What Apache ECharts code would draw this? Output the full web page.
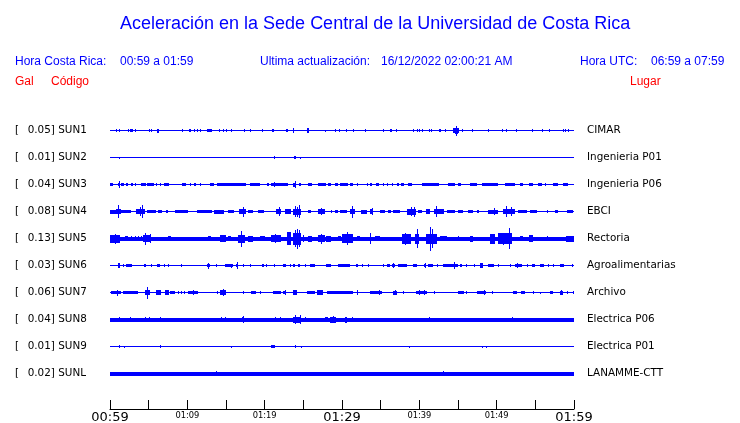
<!DOCTYPE html>
<html><head><meta charset="utf-8">
<script src="https://cdn.jsdelivr.net/npm/echarts@6/dist/echarts.min.js"></script>
<style>html,body{margin:0;padding:0;background:#fff}#c{width:740px;height:423px}</style>
</head><body><div id="c"></div><script>
// ---- data ----
const codes = ['SUN1','SUN2','SUN3','SUN4','SUN5','SUN6','SUN7','SUN8','SUN9','SUNL'];
const galMax = [0.05,0.01,0.04,0.08,0.13,0.03,0.06,0.04,0.01,0.02];
const stations = ['CIMAR','Ingenieria P01','Ingenieria P06','EBCI','Rectoria','Agroalimentarias','Archivo','Electrica P06','Electrica P01','LANAMME-CTT'];
const tickLabels = ['00:59','01:09','01:19','01:29','01:39','01:49','01:59']; // every 10 min
// background noise level per trace (relative amplitude)
const noiseFloor = [0,0,0,0,0.18,0,0,0.17,0,0.16];
// bursts: [start minute, end minute, relative amplitude]
const sun1 = [[0.82,0.82,0.11],[1.12,1.12,0.11],[2.33,2.33,0.11],[2.54,2.54,0.11],[2.67,2.97,0.12],[3.28,3.28,0.11],[5.09,5.09,0.11],[5.34,5.34,0.11],[6.12,6.29,0.17],[9.31,9.31,0.11],[10.17,10.43,0.12],[10.86,10.86,0.11],[11.29,11.29,0.11],[11.6,11.6,0.11],[12.59,13.19,0.14],[14.09,14.09,0.11],[14.6,14.6,0.11],[15.0,15.0,0.11],[15.7,15.7,0.11],[17.33,17.33,0.11],[18.06,18.23,0.12],[19.66,19.66,0.11],[20.99,21.16,0.12],[22.8,22.97,0.12],[23.66,23.66,0.22],[25.47,25.78,0.19],[27.84,27.84,0.08],[29.14,29.14,0.11],[29.57,29.57,0.11],
[30.52,30.69,0.12],[31.38,31.51,0.12],[32.97,32.97,0.11],[35.26,35.47,0.11],[36.2,36.42,0.11],[36.98,36.98,0.11],[39.14,39.14,0.11],[39.65,39.65,0.11],[39.91,39.91,0.11],[40.3,40.52,0.12],[41.29,41.29,0.11],[41.55,41.55,0.11],[42.5,42.76,0.12],[43.32,43.32,0.11],[44.31,45.17,0.19],[44.6,44.95,0.25],[44.78,44.78,0.42],[45.47,45.69,0.12],[46.77,46.77,0.11],[48.92,48.92,0.11],[50.64,50.64,0.11],[51.21,51.21,0.11],[52.46,52.46,0.11],[54.61,54.61,0.11],[55.9,55.9,0.11],[56.81,56.81,0.11],[58.62,58.62,0.11],[58.84,58.84,0.11],[59.22,59.22,0.11]];
const sun2 = [[1.12,1.12,0.08],[21.16,21.16,0.11],[23.8,24.0,0.11],[24.53,24.53,0.08]];
const sun3 = [[0,0.34,0.14],[1.03,1.29,0.14],[1.12,1.12,0.28],[1.47,1.81,0.14],[2.11,2.33,0.12],[2.67,2.93,0.12],[3.19,3.36,0.12],[3.97,4.6,0.14],[4.8,5.69,0.14],[5.9,5.9,0.11],[6.42,6.64,0.12],[6.98,7.59,0.14],[9.31,9.78,0.14],[10.3,10.3,0.11],[10.86,11.16,0.12],[11.6,11.6,0.11],[12.89,13.45,0.14],[13.88,17.63,0.14],[18.06,19.35,0.14],[20.34,20.52,0.12],[20.86,23.02,0.14],[21.16,21.16,0.19],[23.66,24.1,0.17],[23.88,23.88,0.28],[24.4,24.74,0.14],[25.6,26.12,0.14],[26.9,27.97,0.14],[28.19,28.62,0.12],[29.05,29.48,0.12],
[29.74,30.82,0.14],[31.03,31.46,0.14],[31.9,31.9,0.11],[33.19,33.19,0.11],[33.62,33.84,0.12],[34.4,34.83,0.14],[35.34,35.34,0.11],[35.77,35.77,0.11],[36.42,36.42,0.11],[37.07,37.41,0.12],[37.63,38.02,0.14],[38.58,39.01,0.14],[40.3,42.54,0.14],[43.75,44.61,0.14],[45.04,45.34,0.12],[46.55,47.41,0.14],[48.06,50.21,0.14],[51.08,52.37,0.14],[53.02,53.45,0.12],[54.22,54.74,0.14],[55.39,55.82,0.12],[56.25,56.38,0.12],[57.33,57.97,0.14],[58.62,59.18,0.14]];
const sun4 = [[0,0.82,0.17],[0.82,1.47,0.22],[1.08,1.08,0.53],[1.47,2.67,0.14],[3.4,4.48,0.19],[3.9,3.9,0.36],[4.18,4.18,0.56],[4.83,5.99,0.14],[6.2,6.72,0.14],[7.28,7.5,0.12],[8.36,10.09,0.14],[11.29,13.19,0.14],[13.45,14.74,0.16],[15.26,16.03,0.14],[16.64,17.63,0.19],[17.16,17.16,0.42],[17.84,18.49,0.14],[19.14,19.91,0.14],[21.5,22.16,0.19],[21.85,21.85,0.36],[22.59,23.45,0.22],[23.66,24.74,0.25],[23.88,23.88,0.44],[24.2,24.2,0.4],[24.44,24.44,0.56],[25.6,26.03,0.14],[26.9,27.76,0.22],[27.3,27.3,0.28],[28.53,28.71,0.12],[29.05,29.48,0.14],[29.83,29.83,0.11],
[29.74,30.6,0.14],[31.03,31.68,0.22],[31.29,31.29,0.5],[32.41,33.28,0.17],[33.62,34.05,0.22],[33.9,33.9,0.31],[34.91,35.56,0.14],[35.99,36.29,0.12],[36.64,37.5,0.14],[38.36,39.57,0.25],[38.88,38.88,0.36],[39.31,39.31,0.42],[39.87,40.3,0.14],[40.86,41.38,0.19],[41.94,43.19,0.22],[42.11,42.11,0.44],[43.53,44.61,0.14],[45.04,45.69,0.14],[46.34,46.98,0.14],[47.41,47.76,0.12],[48.92,50.21,0.17],[49.6,49.6,0.28],[50.86,52.37,0.22],[51.16,51.16,0.44],[51.81,51.81,0.39],[52.8,53.88,0.14],[54.31,55.17,0.14],[56.46,56.68,0.12],[57.54,57.97,0.12],[59.05,59.91,0.14]];
const sun5 = [[0,1.25,0.33],[0.69,0.69,0.42],[1.9,2.33,0.19],[2.76,2.76,0.22],[3.28,3.28,0.22],[3.62,3.62,0.22],[3.97,3.97,0.22],[4.27,5.34,0.28],[4.48,4.48,0.5],[5.13,5.13,0.36],[7.5,7.93,0.19],[12.67,13.1,0.19],[14.18,15.04,0.31],[15.26,15.69,0.22],[16.55,17.41,0.33],[16.98,16.98,0.67],[17.84,18.49,0.25],[19.35,20.0,0.22],[20.86,22.16,0.28],[21.3,21.3,0.39],[22.93,23.36,0.56],[23.66,24.74,0.5],[23.9,23.9,0.7],[24.18,24.18,0.83],[24.5,24.5,0.72],[24.96,24.96,0.28],[25.6,26.12,0.25],[26.9,27.76,0.3],[27.3,27.3,0.42],[27.97,28.53,0.25],[29.48,29.91,0.19],
[29.96,31.46,0.36],[30.6,30.6,0.56],[31.9,32.33,0.22],[33.62,33.62,0.47],[34.27,34.91,0.19],[37.71,38.88,0.4],[38.2,38.2,0.5],[39.44,40.0,0.4],[39.74,39.74,0.78],[40.86,42.24,0.42],[41.38,41.38,1.0],[41.6,41.6,0.8],[42.67,43.53,0.22],[45.04,45.04,0.19],[46.55,46.98,0.25],[49.14,49.78,0.42],[50.21,51.94,0.45],[50.86,50.86,0.5],[51.64,51.64,0.89],[53.02,53.45,0.22],[54.22,54.74,0.28],[56.46,56.46,0.19],[58.96,60,0.25]];
const sun6 = [[1.03,1.25,0.22],[1.68,1.68,0.11],[2.11,2.84,0.14],[4.4,4.7,0.12],[5.34,5.34,0.11],[6.12,6.42,0.14],[6.98,6.98,0.11],[7.5,7.5,0.11],[9.14,9.14,0.14],[12.59,12.89,0.14],[12.7,12.7,0.25],[13.75,13.75,0.11],[14.91,15.9,0.12],[15.6,15.6,0.17],[16.34,16.55,0.12],[16.45,16.45,0.28],[17.2,17.2,0.11],[18.06,18.28,0.14],[19.66,19.91,0.12],[20.22,20.22,0.11],[21.16,21.16,0.11],[22.37,22.8,0.14],[23.23,23.23,0.11],[23.66,23.88,0.12],[24.31,24.61,0.12],[25.17,25.17,0.11],[25.82,26.47,0.12],[27.97,28.53,0.14],[29.48,29.91,0.12],
[29.74,31.03,0.12],[31.81,32.11,0.12],[32.54,32.54,0.11],[33.4,33.4,0.11],[35.26,35.43,0.12],[35.77,36.2,0.12],[36.42,36.85,0.14],[36.64,36.64,0.22],[37.28,38.36,0.12],[39.22,39.74,0.12],[40.6,40.86,0.14],[40.7,40.7,0.22],[41.16,41.81,0.12],[42.24,42.24,0.11],[43.1,45.04,0.12],[44.52,44.52,0.28],[45.26,45.47,0.12],[46.03,46.03,0.11],[47.07,47.07,0.11],[47.84,48.19,0.19],[48.92,49.66,0.14],[50.21,50.21,0.11],[51.72,51.72,0.11],[52.37,53.23,0.12],[52.6,52.6,0.22],[53.88,53.88,0.11],[54.53,54.96,0.12],[55.6,56.12,0.12],[56.68,56.68,0.11],[57.33,57.33,0.11],[58.19,58.71,0.12],[59.7,59.7,0.11]];
const sun7 = [[0.09,1.47,0.14],[0.9,0.9,0.25],[1.68,3.62,0.14],[4.57,5.13,0.22],[4.83,4.83,0.5],[5.99,6.64,0.19],[7.07,7.59,0.19],[7.72,8.36,0.14],[8.79,8.79,0.11],[9.22,9.22,0.11],[9.57,9.57,0.11],[10.09,11.38,0.14],[10.73,10.73,0.22],[13.88,13.88,0.11],[14.18,15.04,0.19],[14.6,14.6,0.31],[17.2,17.2,0.11],[18.19,18.92,0.14],[19.35,19.35,0.11],[21.08,22.07,0.14],[22.37,22.8,0.14],[22.6,22.6,0.22],[23.66,24.22,0.19],[25.52,26.47,0.14],[26.81,27.54,0.19],[28.06,29.7,0.14],
[29.74,31.38,0.14],[31.9,32.11,0.14],[32.0,32.0,0.22],[33.62,35.13,0.14],[34.84,34.84,0.19],[36.55,37.07,0.17],[36.8,36.8,0.22],[37.84,37.84,0.11],[39.57,41.03,0.14],[39.9,39.9,0.22],[40.6,40.6,0.22],[41.94,41.94,0.11],[44.96,45.77,0.14],[46.03,46.03,0.11],[47.41,48.58,0.14],[48.36,48.36,0.22],[49.35,49.35,0.11],[52.15,52.67,0.14],[53.1,53.71,0.14],[54.74,54.74,0.11],[55.6,55.6,0.08],[56.9,57.33,0.14],[58.19,58.53,0.17],[58.36,58.36,0.22],[59.05,59.05,0.11],[59.91,59.91,0.11]];
const sun8 = [[1.16,1.16,0.22],[2.54,2.54,0.19],[4.48,4.48,0.19],[5.0,5.0,0.22],[5.99,5.99,0.17],[6.51,6.51,0.19],[8.36,8.36,0.17],[14.31,14.31,0.22],[14.91,14.91,0.22],[15.6,15.6,0.17],[17.07,17.33,0.22],[17.2,17.2,0.31],[21.38,21.38,0.19],[21.98,21.98,0.19],[23.66,24.74,0.25],[23.88,23.88,0.39],[24.53,24.53,0.36],[25.17,25.17,0.19],[27.2,27.2,0.17],[27.76,28.19,0.22],[28.4,29.27,0.25],[28.9,28.9,0.28],
[30.39,30.6,0.25],[31.29,31.29,0.19],[41.29,41.29,0.22],[45.9,45.9,0.17],[51.94,51.94,0.22],[54.09,54.09,0.17]];
const sun9 = [[1.16,1.16,0.11],[1.81,1.81,0.08],[6.42,6.42,0.11],[15.69,15.69,0.08],[20.86,21.29,0.11],[23.88,24.1,0.11],[24.66,24.66,0.08],[38.66,38.66,0.08],[48.15,48.15,0.08],[48.62,48.62,0.08]];
const sunL = [[13.75,13.75,0.19],[24.31,24.31,0.17],[43.1,43.1,0.22]];
const bursts = [sun1,sun2,sun3,sun4,sun5,sun6,sun7,sun8,sun9,sunL];

// ---- build ----
const BLUE = '#0000ff';
const AMP_TO_BAND = 12/27; // relative amplitude 1 -> fraction of row band (half height)
const traceData = [];
bursts.forEach((list, row) => {
  traceData.push([0, 60, row, noiseFloor[row]]);
  list.forEach(b => traceData.push([b[0], b[1], row, b[2]]));
});

function renderItem(params, api) {
  const t0 = api.value(0), t1 = api.value(1), row = api.value(2), amp = api.value(3);
  const p0 = api.coord([t0, row]);
  const p1 = api.coord([t1, row]);
  const band = api.size([0, 1])[1];
  const half = amp * band * AMP_TO_BAND;
  const h = Math.max(1, Math.round(half * 2));
  const y = Math.round(p0[1] - h / 2);
  const x = Math.round(p0[0]);
  const w = Math.max(1, Math.round(p1[0]) - x);
  return { type: 'rect', shape: { x: x, y: y, width: w, height: h }, style: { fill: BLUE } };
}

const hdr = (text, left, top, color, size) => ({
  text, left, top, padding: 0,
  textStyle: { color, fontSize: size, fontFamily: 'Liberation Sans', fontWeight: 'normal' }
});

const chart = echarts.init(document.getElementById('c'), null, { renderer: 'canvas' });
chart.setOption({
  animation: false,
  backgroundColor: '#ffffff',
  title: [
    hdr('Aceleración en la Sede Central de la Universidad de Costa Rica', 120, 15, BLUE, 18),
    hdr('Hora Costa Rica:', 15, 56, BLUE, 12),
    hdr('00:59 a 01:59', 120, 56, BLUE, 12),
    hdr('Ultima actualización:', 260, 56, BLUE, 12),
    hdr('16/12/2022 02:00:21 AM', 381, 56, BLUE, 12),
    hdr('Hora UTC:', 580, 56, BLUE, 12),
    hdr('06:59 a 07:59', 651, 56, BLUE, 12),
    hdr('Gal', 15, 76, '#ff0000', 12),
    hdr('Código', 51, 76, '#ff0000', 12),
    hdr('Lugar', 630, 76, '#ff0000', 12)
  ],
  grid: { left: 110, right: 166, top: 117, height: 270, outerBoundsMode: 'none', containLabel: false },
  xAxis: {
    type: 'value', min: 0, max: 60, interval: 5, offset: 22,
    axisLine: { show: true, lineStyle: { color: '#000', width: 1 } },
    axisTick: { show: true, inside: true, length: 9, lineStyle: { color: '#000', width: 1 } },
    splitLine: { show: false },
    axisLabel: {
      margin: 2,
      formatter: v => {
        if (v % 10 !== 0) return '';
        const s = tickLabels[v / 10];
        return v % 30 === 0 ? '{big|' + s + '}' : '{small|' + s + '}';
      },
      rich: {
        big: { fontSize: 13, fontFamily: 'DejaVu Sans', color: '#000', lineHeight: 14 },
        small: { fontSize: 8.3, fontFamily: 'DejaVu Sans', color: '#000', lineHeight: 10 }
      }
    }
  },
  yAxis: [
    {
      type: 'category', data: codes, inverse: true, position: 'left',
      axisLine: { show: false }, axisTick: { show: false }, splitLine: { show: false },
      axisLabel: {
        margin: 95, align: 'left',
        formatter: (v, i) => '{b|[}{t|' + galMax[i].toFixed(2) + '] ' + v + '}',
        rich: {
          b: { width: 12.7, fontSize: 10.4, fontFamily: 'DejaVu Sans', color: '#000' },
          t: { fontSize: 10.4, fontFamily: 'DejaVu Sans', color: '#000' }
        }
      }
    },
    {
      type: 'category', data: stations, inverse: true, position: 'right',
      axisLine: { show: false }, axisTick: { show: false }, splitLine: { show: false },
      axisLabel: { margin: 13, align: 'left', fontSize: 10.4, fontFamily: 'DejaVu Sans', color: '#000' }
    }
  ],
  series: [{
    type: 'custom', renderItem, clip: false, silent: true,
    xAxisIndex: 0, yAxisIndex: 0,
    encode: { x: [0, 1], y: 2 },
    data: traceData
  }]
});
</script></body></html>
